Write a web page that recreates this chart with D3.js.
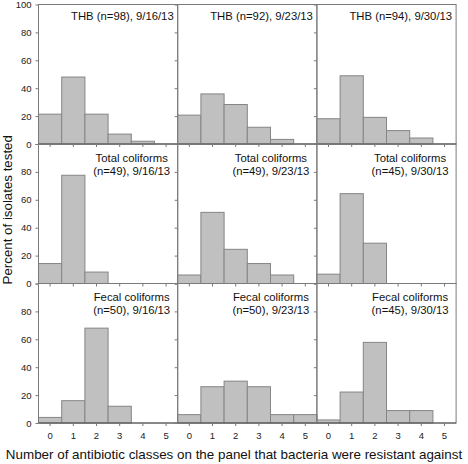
<!DOCTYPE html>
<html>
<head>
<meta charset="utf-8">
<script src="https://cdn.jsdelivr.net/npm/d3@7"></script>
<style>
  html, body { margin: 0; padding: 0; background: #fff; }
  svg { display: block; font-family: "Liberation Sans", Arial, sans-serif; }
</style>
</head>
<body>
<svg id="chart" width="468" height="464"></svg>
<script>
// ---- data ----
const categories = [0, 1, 2, 3, 4, 5];
const yTicks = [0, 20, 40, 60, 80, 100];
const groups = ["THB", "Total coliforms", "Fecal coliforms"];
const dates = ["9/16/13", "9/23/13", "9/30/13"];
const nTHB = [98, 92, 94];
const nTotal = [49, 49, 45];
const nFecal = [50, 50, 45];
const thb_0916 = [21.4, 48.0, 21.4, 7.1, 2.0, 0];
const thb_0923 = [20.7, 35.9, 28.3, 12.0, 3.3, 0];
const thb_0930 = [18.1, 48.9, 19.1, 9.6, 4.3, 0];
const total_0916 = [14.3, 77.6, 8.2, 0, 0, 0];
const total_0923 = [6.1, 51.0, 24.5, 14.3, 6.1, 0];
const total_0930 = [6.7, 64.4, 28.9, 0, 0, 0];
const fecal_0916 = [4.0, 16.0, 68.0, 12.0, 0, 0];
const fecal_0923 = [6.0, 26.0, 30.0, 26.0, 6.0, 6.0];
const fecal_0930 = [2.2, 22.2, 57.8, 8.9, 8.9, 0];
const yTitle = "Percent of isolates tested";
const xTitle = "Number of antibiotic classes on the panel that bacteria were resistant against";

const values = [
  [thb_0916, thb_0923, thb_0930],
  [total_0916, total_0923, total_0930],
  [fecal_0916, fecal_0923, fecal_0930]
];
const ns = [nTHB, nTotal, nFecal];

// ---- layout ----
const mLeft = 38.5, mTop = 4.5, pw = 139.2, ph = 139.5;
const svg = d3.select("#chart");
const barFill = "#c0c0c0", barStroke = "#858585", axisCol = "#7a7a7a";

const colX = d3.scaleLinear().domain([0, 3]).range([mLeft, mLeft + 3 * pw]);
const rowY = d3.scaleLinear().domain([0, 3]).range([mTop, mTop + 3 * ph]);

for (let r = 0; r < 3; r++) {
  for (let c = 0; c < 3; c++) {
    const x0 = colX(c), y0 = rowY(r);
    const x = d3.scaleBand().domain(categories).range([x0, x0 + pw]).padding(0);
    const y = d3.scaleLinear().domain([0, 100]).range([y0 + ph, y0]);
    const g = svg.append("g");
    const data = values[r][c];

    g.selectAll("rect.bar").data(categories.filter((d, i) => data[i] > 0)).join("rect")
      .attr("class", "bar")
      .attr("x", d => x(d))
      .attr("y", d => y(data[d]))
      .attr("width", x.bandwidth())
      .attr("height", d => y(0) - y(data[d]))
      .attr("fill", barFill)
      .attr("stroke", barStroke)
      .attr("stroke-width", 1);

    // frame
    g.append("rect")
      .attr("x", x0).attr("y", y0).attr("width", pw).attr("height", ph)
      .attr("fill", "none").attr("stroke", axisCol).attr("stroke-width", 1);
    // zero line darker
    g.append("line")
      .attr("x1", x0).attr("x2", x0 + pw).attr("y1", y(0)).attr("y2", y(0))
      .attr("stroke", "#555").attr("stroke-width", 1);

    // y axis ticks (outward, left)
    const yAx = d3.axisLeft(y).tickValues(yTicks).tickSize(3).tickPadding(4)
      .tickFormat(d => (c === 0 && (r === 0 || d < 100)) ? d : "");
    const ya = g.append("g").attr("transform", `translate(${x0},0)`).call(yAx);
    ya.select(".domain").remove();
    ya.selectAll("line").attr("stroke", axisCol);
    ya.selectAll("text").attr("font-size", 9.5).attr("fill", "#222")
      .attr("font-family", "'Liberation Sans', Arial, sans-serif");

    // x axis ticks (outward, down)
    const xAx = d3.axisBottom(x).tickSize(3).tickPadding(6)
      .tickFormat(d => r === 2 ? d : "");
    const xa = g.append("g").attr("transform", `translate(0,${y(0)})`).call(xAx);
    xa.select(".domain").remove();
    xa.selectAll("line").attr("stroke", axisCol);
    xa.selectAll("text").attr("font-size", 9.5).attr("fill", "#222")
      .attr("font-family", "'Liberation Sans', Arial, sans-serif");

    // annotation
    if (r === 0) {
      g.append("text")
        .attr("x", x0 + pw - 4).attr("y", y0 + 15.5)
        .attr("text-anchor", "end").attr("font-size", 11.3).attr("fill", "#111")
        .text(`${groups[r]} (n=${ns[r][c]}), ${dates[c]}`);
    } else {
      const cx = x0 + pw - 46;
      g.append("text")
        .attr("x", cx).attr("y", y0 + 17.5)
        .attr("text-anchor", "middle").attr("font-size", 11.3).attr("fill", "#111")
        .text(groups[r]);
      g.append("text")
        .attr("x", cx).attr("y", y0 + 30.5)
        .attr("text-anchor", "middle").attr("font-size", 11.3).attr("fill", "#111")
        .text(`(n=${ns[r][c]}), ${dates[c]}`);
    }
  }
}

// axis titles
svg.append("text")
  .attr("transform", `translate(11.5,${mTop + 1.5 * ph - 4}) rotate(-90)`)
  .attr("text-anchor", "middle").attr("font-size", 13.3).attr("fill", "#111")
  .text(yTitle);
svg.append("text")
  .attr("x", 234).attr("y", 459)
  .attr("text-anchor", "middle").attr("font-size", 13.4).attr("fill", "#111")
  .text(xTitle);
</script>
</body>
</html>
